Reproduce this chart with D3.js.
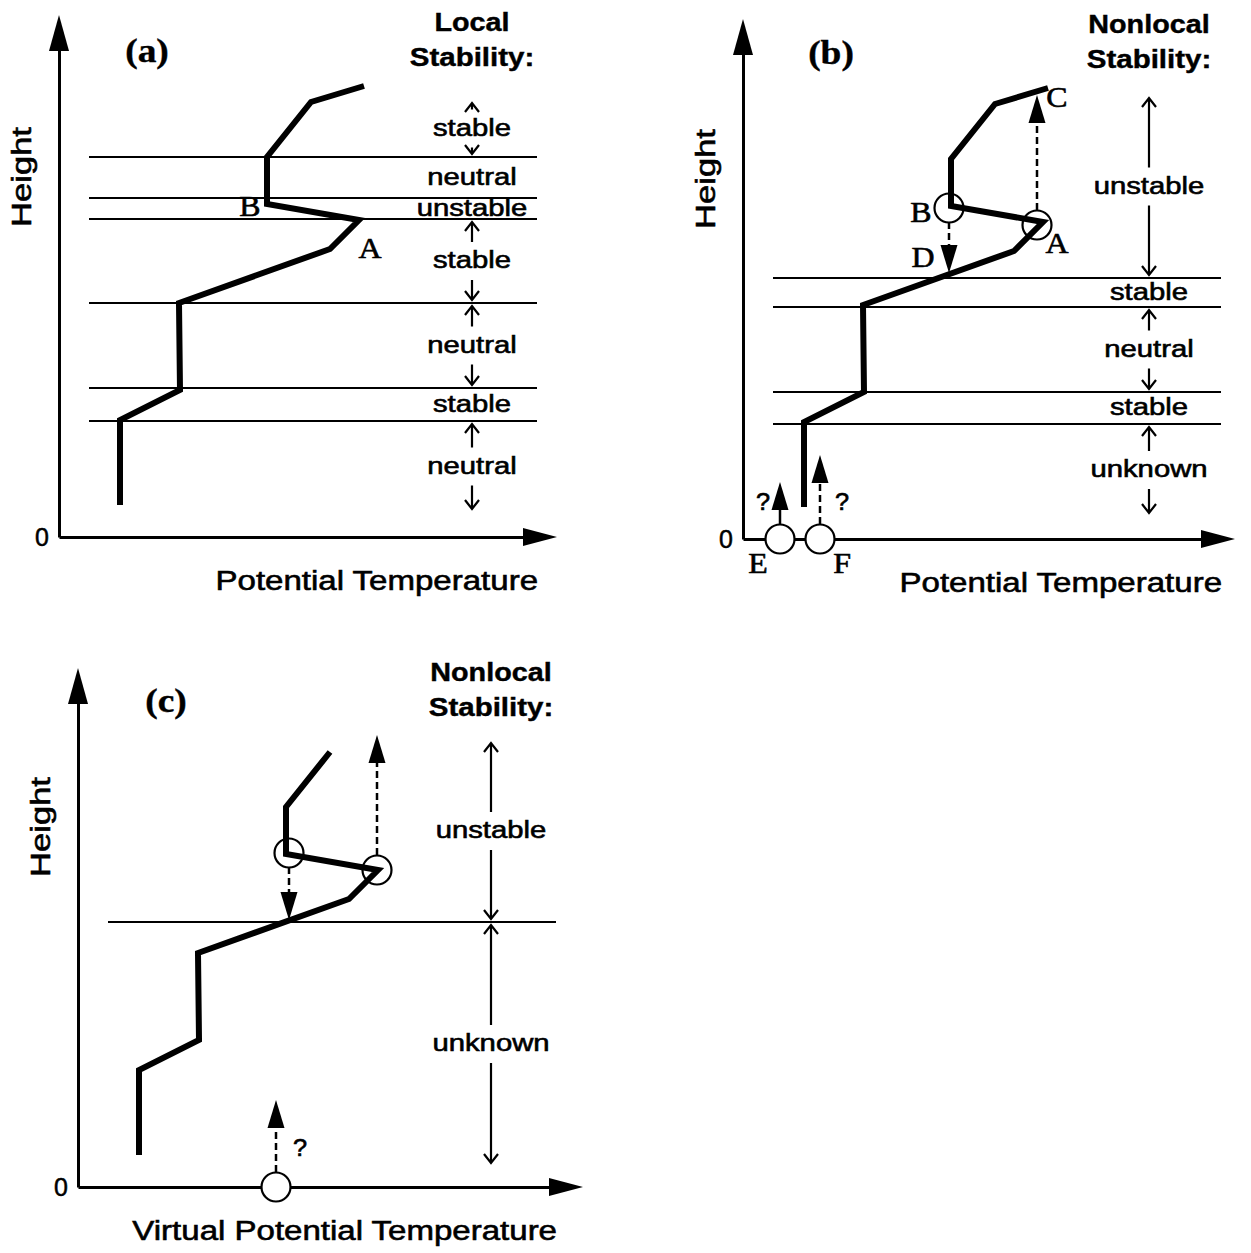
<!DOCTYPE html>
<html>
<head>
<meta charset="utf-8">
<script src="https://cdn.jsdelivr.net/npm/d3@7"></script>
<style>
  body { margin: 0; background: #fff; }
  svg { display: block; }
</style>
</head>
<body>
<svg id="chart" width="1251" height="1253"></svg>
<script>
// profile (same sounding in every panel), units 0-100
var profileTheta  = [12.2, 12.2, 24.2, 24.0, 54.2, 60.0, 41.6, 41.6, 50.4, 61.0];
var profileHeight = [6.4, 23.4, 29.4, 46.8, 57.6, 63.4, 66.6, 76.0, 87.0, 90.2];

// (a) local stability layers
var linesA   = [76, 67.8, 63.6, 46.8, 29.8, 23.2];
var labelsA  = ["stable", "neutral", "unstable", "stable", "neutral", "stable", "neutral"];
var topsA    = [87.4, 76, 67.8, 63.6, 46.8, 29.8, 23.2];
var bottomsA = [76, 67.8, 63.6, 46.8, 29.8, 23.2, 5];
var arrowsA  = [true, false, false, true, true, false, true];

// (b) nonlocal stability layers
var linesB   = [52.2, 46.4, 29.4, 23];
var labelsB  = ["unstable", "stable", "neutral", "stable", "unknown"];
var topsB    = [88.8, 52.2, 46.4, 29.4, 23];
var bottomsB = [52.2, 46.4, 29.4, 23, 4.6];
var arrowsB  = [true, false, true, false, true];

// (c) nonlocal stability with virtual pot. temp
var linesC   = [53];
var labelsC  = ["unstable", "unknown"];
var topsC    = [89.4, 53];
var bottomsC = [53, 4.2];
var arrowsC  = [true, true];

// parcels (circles)
var parcelThetaB  = [41.2, 58.8, 7.4, 15.4];
var parcelHeightB = [66.2, 62.8, 0, 0];
var parcelThetaC  = [42.2, 59.8, 39.6];
var parcelHeightC = [66.8, 63.4, 0];

// parcel displacement arrows
var moveXB    = [58.8, 41.2, 7.4, 15.4];
var moveFromB = [65.8, 63.4, 3, 3];
var moveToB   = [88.8, 53.2, 11.4, 16.8];
var moveDashB = [true, true, false, true];
var moveXC    = [59.8, 42.2, 39.6];
var moveFromC = [66.4, 64.0, 3];
var moveToC   = [90.4, 53.4, 17.4];
var moveDashC = [true, true, true];

// point letters
var pointNamesA = ["A", "B"];
var pointXA     = [62.2, 38.2];
var pointYA     = [57.8, 66.2];
var pointNamesB = ["C", "B", "A", "D", "E", "F"];
var pointXB     = [62.8, 35.6, 62.8, 36.0, 3.0, 19.8];
var pointYB     = [88.4, 65.4, 59.2, 56.4, -4.8, -4.8];
var questionXB  = [4.0, 19.8];
var questionYB  = [7.4, 7.4];
var questionXC  = [44.4];
var questionYC  = [7.8];

var svg = d3.select("#chart");
var SANS = "'Liberation Sans', Arial, Helvetica, sans-serif";
var SERIF = "'Liberation Serif', 'Times New Roman', serif";

function txt(g, x, y, s, o) {
  g.append("text")
    .attr("transform", "translate(" + x + "," + y + ") rotate(" + (o.rot || 0) + ") scale(" + (o.sx || 1) + ",1)")
    .attr("text-anchor", o.anchor || "middle")
    .attr("dy", "0.35em")
    .style("font-family", o.serif ? SERIF : SANS)
    .style("font-size", o.size + "px")
    .style("font-weight", o.bold ? "bold" : "normal")
    .style("fill", "#000")
    .style("stroke", "#000")
    .style("stroke-width", o.bold ? 0.4 : 0.6)
    .text(s);
}

function headUp(g, x, y, len, hw) {
  g.append("path").attr("d", "M" + x + "," + y + "L" + (x - hw) + "," + (y + len) + "L" + (x + hw) + "," + (y + len) + "Z").attr("fill", "#000");
}
function headDown(g, x, y, len, hw) {
  g.append("path").attr("d", "M" + x + "," + y + "L" + (x - hw) + "," + (y - len) + "L" + (x + hw) + "," + (y - len) + "Z").attr("fill", "#000");
}

function drawPanel(p) {
  var g = svg.append("g");
  var x = d3.scaleLinear().domain([0, 100]).range([p.ox, p.ox + 500]);
  var y = d3.scaleLinear().domain([0, 100]).range([p.oy, p.oy - 500]);

  // horizontal layer boundaries
  g.selectAll("line.layer").data(p.lines).enter().append("line")
    .attr("class", "layer")
    .attr("x1", x(6)).attr("x2", x(95.6))
    .attr("y1", function(d) { return y(d); }).attr("y2", function(d) { return y(d); })
    .attr("stroke", "#000").attr("stroke-width", 2);

  // axes
  var yAxisScale = d3.scaleLinear().domain([0, p.yTip - 5]).range([y(0), y(p.yTip - 5)]);
  var yAxis = g.append("g").attr("transform", "translate(" + x(0) + ",0)")
    .call(d3.axisLeft(yAxisScale).tickValues([0]).tickSize(0).tickSizeOuter(0).tickPadding(10).tickFormat(d3.format("d")));
  yAxis.select(".domain").attr("stroke-width", 3);
  yAxis.selectAll("text").style("font-family", SANS).style("font-size", "25px")
    .style("stroke", "#000").style("stroke-width", 0.5).attr("dy", "0.35em");

  var xAxisScale = d3.scaleLinear().domain([0, p.xTip - 5]).range([x(0), x(p.xTip - 5)]);
  var xAxis = g.append("g").attr("transform", "translate(0," + y(0) + ")")
    .call(d3.axisBottom(xAxisScale).tickValues([]).tickSizeOuter(0));
  xAxis.select(".domain").attr("stroke-width", 3);
  headUp(g, x(0), y(p.yTip), 36, 10);
  g.append("path")
    .attr("d", "M" + x(p.xTip) + "," + y(0) + "L" + (x(p.xTip) - 34) + "," + (y(0) - 9) + "L" + (x(p.xTip) - 34) + "," + (y(0) + 9) + "Z")
    .attr("fill", "#000");

  // profile
  var pts = d3.range(p.nPts).map(function(i) { return [profileTheta[i], profileHeight[i]]; });
  g.append("path").datum(pts)
    .attr("d", d3.line().x(function(d) { return x(d[0]); }).y(function(d) { return y(d[1]); }))
    .attr("fill", "none").attr("stroke", "#000").attr("stroke-width", 6)
    .attr("stroke-linejoin", "miter");

  // parcels
  if (p.parcelX) {
    p.parcelX.forEach(function(v, i) {
      g.append("circle").attr("cx", x(v)).attr("cy", y(p.parcelY[i])).attr("r", 14.5)
        .attr("fill", p.parcelY[i] === 0 ? "#fff" : "none").attr("stroke", "#000").attr("stroke-width", 2.2);
    });
    p.moveX.forEach(function(v, i) {
      var up = p.moveTo[i] > p.moveFrom[i];
      var tip = y(p.moveTo[i]);
      var base = up ? tip + 28 : tip - 28;
      g.append("line").attr("x1", x(v)).attr("x2", x(v))
        .attr("y1", y(p.moveFrom[i])).attr("y2", base)
        .attr("stroke", "#000").attr("stroke-width", 2.5)
        .attr("stroke-dasharray", p.moveDash[i] ? "7,4" : null);
      if (up) headUp(g, x(v), tip, 28, 8.5); else headDown(g, x(v), tip, 28, 8.5);
    });
  }

  // stability column
  var col = x(p.colX);
  p.labels.forEach(function(s, i) {
    var mid = (p.tops[i] + p.bottoms[i]) / 2;
    var ym = y(mid);
    txt(g, col, ym - 1, s, { size: 24, sx: 1.22 });
    if (p.arrows[i]) {
      var t = y(p.tops[i]) + 3, b = y(p.bottoms[i]) - 3;
      g.append("path")
        .attr("d", "M" + col + "," + (ym - 19) + "V" + t + "M" + (col - 7) + "," + (t + 9) + "L" + col + "," + t + "L" + (col + 7) + "," + (t + 9) +
                   "M" + col + "," + (ym + 19) + "V" + b + "M" + (col - 7) + "," + (b - 9) + "L" + col + "," + b + "L" + (col + 7) + "," + (b - 9))
        .attr("fill", "none").attr("stroke", "#000").attr("stroke-width", 2.2);
    }
  });

  // letters
  p.names.forEach(function(s, i) {
    txt(g, x(p.nameX[i]), y(p.nameY[i]), s, { size: 29, serif: true, sx: 1.1 });
  });
  p.qX.forEach(function(v, i) {
    txt(g, x(v), y(p.qY[i]), "?", { size: 23, sx: 1.1 });
  });

  // texts
  txt(g, p.ox + 88, p.oy - 487, p.title, { size: 34, serif: true, bold: true, sx: 1.1 });
  txt(g, p.ox - 37, p.oy - 360, "Height", { size: 27, rot: -90, sx: 1.28 });
  txt(g, col, p.oy - 515, p.head1, { size: 25, bold: true, sx: 1.15 });
  txt(g, col, p.oy - 480, "Stability:", { size: 25, bold: true, sx: 1.18 });
  txt(g, p.ox + 479, p.oy + 43, p.xlabel, { size: 28, sx: 1.18, anchor: "end" });
}

drawPanel({ ox: 59, oy: 537, xTip: 99.6, yTip: 104.4, colX: 82.6, nPts: 10,
  lines: linesA, labels: labelsA, tops: topsA, bottoms: bottomsA, arrows: arrowsA,
  names: pointNamesA, nameX: pointXA, nameY: pointYA, qX: [], qY: [],
  title: "(a)", head1: "Local", xlabel: "Potential Temperature" });

drawPanel({ ox: 743, oy: 539, xTip: 98.4, yTip: 104, colX: 81.2, nPts: 10,
  lines: linesB, labels: labelsB, tops: topsB, bottoms: bottomsB, arrows: arrowsB,
  parcelX: parcelThetaB, parcelY: parcelHeightB,
  moveX: moveXB, moveFrom: moveFromB, moveTo: moveToB, moveDash: moveDashB,
  names: pointNamesB, nameX: pointXB, nameY: pointYB, qX: questionXB, qY: questionYB,
  title: "(b)", head1: "Nonlocal", xlabel: "Potential Temperature" });

drawPanel({ ox: 78, oy: 1187, xTip: 101, yTip: 103.8, colX: 82.6, nPts: 9,
  lines: linesC, labels: labelsC, tops: topsC, bottoms: bottomsC, arrows: arrowsC,
  parcelX: parcelThetaC, parcelY: parcelHeightC,
  moveX: moveXC, moveFrom: moveFromC, moveTo: moveToC, moveDash: moveDashC,
  names: [], nameX: [], nameY: [], qX: questionXC, qY: questionYC,
  title: "(c)", head1: "Nonlocal", xlabel: "Virtual Potential Temperature" });
</script>
</body>
</html>
